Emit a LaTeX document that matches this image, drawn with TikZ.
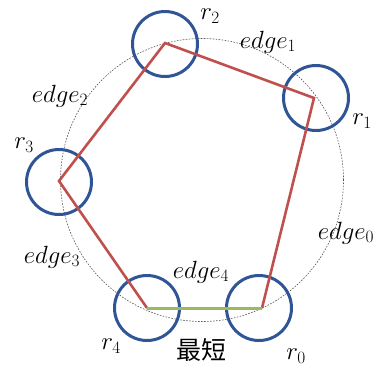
\documentclass[tikz,border=0pt]{standalone}
\usepackage{fontspec}
\newfontfamily\cjk{Noto Sans CJK SC}
\usepackage{tikz}
\usetikzlibrary{positioning}
\definecolor{ringCol}{HTML}{2F5597}
\definecolor{pathCol}{HTML}{C0504D}
\definecolor{shortCol}{HTML}{9BBB59}
\definecolor{hullCol}{HTML}{555555}
\tikzset{
  robot/.style={circle, draw=ringCol, line width=3pt, minimum size=65pt, inner sep=0pt},
  route/.style={pathCol, line width=2.6pt},
  shortest/.style={shortCol, line width=3pt},
  hull/.style={hullCol, line width=0.6pt, dash pattern=on 1.6pt off 1.4pt},
  lbl/.style={font=\fontsize{24}{28}\selectfont, inner sep=0pt},
}

\begin{document}
\begin{tikzpicture}[x=1pt, y=-1pt]
  \useasboundingbox (0,0) rectangle (380,373);
  % circumcircle
  \draw[hull] (202,180) circle (141.5pt);
  % vertices
  \coordinate (v0) at (262,308);
  \coordinate (v1) at (314,98);
  \coordinate (v2) at (165,43);
  \coordinate (v3) at (59,181);
  \coordinate (v4) at (147,308);
  % robots
  \node[robot] (r0) at (259,308) {};
  \node[robot] (r1) at (316,98) {};
  \node[robot] (r2) at (165,44) {};
  \node[robot] (r3) at (59,182) {};
  \node[robot] (r4) at (147,308) {};
  % edges
  \draw[route] (v0) -- (v1) -- (v2) -- (v3) -- (v4);
  \draw[shortest] (v4) -- (v0);
  % labels
  \node[lbl] (l2) at (210,16) {$r_2$};
  \node[lbl] (l1) at (362,121) {$r_1$};
  \node[lbl] (l3) at (24,145) {$r_3$};
  \node[lbl] (l4) at (111,346) {$r_4$};
  \node[lbl] (l0) at (296,356) {$r_0$};
  \node[lbl] (e1) at (268,42) {$edge_1$};
  \node[lbl] (e2) at (60,96) {$edge_2$};
  \node[lbl] (e3) at (52,257) {$edge_3$};
  \node[lbl] (e0) at (346,233) {$edge_0$};
  \node[lbl] (e4) at (201,272) {$edge_4$};
  \node[lbl, font=\fontsize{25}{28}\cjk] (sh) at (201,350) {最短};
\end{tikzpicture}
\end{document}
